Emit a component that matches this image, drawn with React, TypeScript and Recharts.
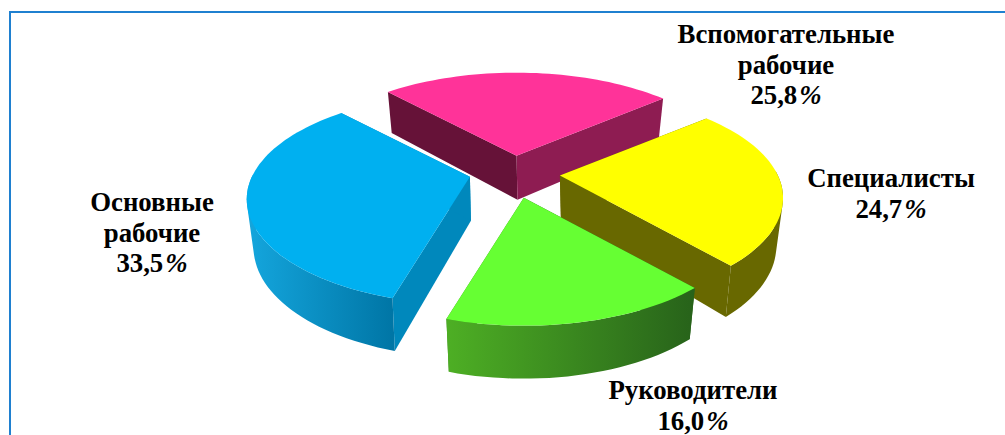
import { Pie, PieChart } from "recharts";

const categories = ["Вспомогательные рабочие", "Специалисты", "Руководители", "Основные рабочие"];
const shares = [25.8, 24.7, 16.0, 33.5];

const topColors = ["#FF3399", "#FFFF00", "#66FF33", "#00B0F0"];
const startWallColors = ["#8E1C52", "#686800", "#3A8A1C", "#0088BC"];
const endWallColors = ["#661238", "#686800", "#27621A", "#0088BC"];
const rimStops = [
  ["#8E1C52", "#8E1C52"],
  ["#686800", "#686800"],
  ["#4DAE24", "#27621A"],
  ["#14A5DC", "#0076A6"],
];
const labelAnchors = [
  { x: 786, y: 43 },
  { x: 891, y: 187 },
  { x: 693, y: 399 },
  { x: 152, y: 211 },
];
// small per slice corrections of the exploded apex, in pixels
const apexNudge = [
  { x: 1, y: 0 },
  { x: 2, y: -1 },
  { x: 0, y: 0 },
  { x: 1, y: -3 },
];

type Pt = { x: number; y: number };

const TILT = 0.462;
const PERSPECTIVE = 0.213;
const EXPLODE = [0.2, 0.206, 0.22, 0.206];
const DEPTH = 44;
const RIM_RANGE: Record<number, number[]> = { 2: [450, 695], 3: [250, 392] };

const rows = categories.map((name, i) => ({ name, value: shares[i] }));

// pie plane -> screen, u to the right, v towards the viewer
const project = (u: number, v: number, r: number) => {
  const w = 1 / (1 - PERSPECTIVE * v);
  return { x: u * r * w, y: v * r * TILT * w };
};

const planePoint = (angle: number, radius: number) => {
  const rad = (angle * Math.PI) / 180;
  return { u: radius * Math.cos(rad), v: -radius * Math.sin(rad) };
};

const toPath = (pts: Pt[]) =>
  pts.map((p, i) => `${i ? "L" : "M"}${p.x.toFixed(1)},${p.y.toFixed(1)}`).join(" ") + " Z";

// same winding for every quad, so the rim fills as one shape with no seams
const orient = (pts: Pt[]) => {
  const area = pts.reduce((sum, p, i) => {
    const n = pts[(i + 1) % pts.length];
    return sum + p.x * n.y - n.x * p.y;
  }, 0);
  return area < 0 ? [...pts].reverse() : pts;
};

const Slice3D = (props: any) => {
  const { cx, cy, outerRadius, startAngle, endAngle, index } = props;
  const mid = planePoint((startAngle + endAngle) / 2, EXPLODE[index]);
  const off = project(mid.u, mid.v, outerRadius);
  const apex = { x: cx + off.x + apexNudge[index].x, y: cy + off.y + apexNudge[index].y };

  const steps = Math.max(8, Math.ceil(Math.abs(startAngle - endAngle) / 2));
  const top: Pt[] = [];
  const bottom: Pt[] = [];
  const facing: boolean[] = [];
  for (let s = 0; s <= steps; s++) {
    const a = startAngle + ((endAngle - startAngle) * s) / steps;
    const p = planePoint(a, 1);
    const q = project(p.u, p.v, outerRadius);
    top.push({ x: apex.x + q.x, y: apex.y + q.y });
    bottom.push({ x: apex.x + q.x * 0.97, y: apex.y + q.y + 46 + 7 * p.v });
    facing.push(p.v > -0.05);
  }
  const apexLow = { x: apex.x + 1, y: apex.y + DEPTH };
  const range = RIM_RANGE[index] ?? [0, 1005];
  const gradId = `rim-${index}`;
  const rim = top
    .slice(1)
    .map((t, i) =>
      facing[i] && facing[i + 1] ? toPath(orient([top[i], t, bottom[i + 1], bottom[i]])) : ""
    )
    .join(" ");

  return (
    <g>
      <defs>
        <linearGradient id={gradId} gradientUnits="userSpaceOnUse" x1={range[0]} x2={range[1]} y1={0} y2={0}>
          <stop offset="0%" stopColor={rimStops[index][0]} />
          <stop offset="100%" stopColor={rimStops[index][1]} />
        </linearGradient>
      </defs>
      <path d={toPath([apex, top[0], bottom[0], apexLow])} fill={endWallColors[index]} />
      <path d={toPath([apex, top[steps], bottom[steps], apexLow])} fill={startWallColors[index]} />
      {rim.trim() ? <path d={rim} fill={`url(#${gradId})`} /> : null}
      <path d={toPath([apex, ...top])} fill={topColors[index]} />
    </g>
  );
};

const renderLabel = ({ index, name, value }: any) => {
  const anchor = labelAnchors[index];
  const lines = name.split(" ");
  const pct = value.toFixed(1).replace(".", ",");
  return (
    <text
      key={name}
      x={anchor.x}
      y={anchor.y}
      textAnchor="middle"
      fontFamily="'Liberation Serif', serif"
      fontWeight="bold"
      fontSize={26.8}
      fill="#000"
    >
      {lines.map((line: string, i: number) => (
        <tspan key={line} x={anchor.x} dy={i ? 30.5 : 0}>
          {line}
        </tspan>
      ))}
      <tspan x={anchor.x} dy={30.5}>
        {pct}
        <tspan fontStyle="italic" dx={2}>
          %
        </tspan>
      </tspan>
    </text>
  );
};

export default function App() {
  return (
    <div style={{ position: "absolute", left: 0, top: 0, width: 1005, height: 435, overflow: "hidden", background: "#fff" }}>
      <div
        style={{
          position: "absolute",
          left: 9,
          top: 11,
          width: 1100,
          height: 600,
          border: "2px solid #1F80D0",
        }}
      />
      <div style={{ position: "absolute", left: 0, top: 0 }}>
        <PieChart width={1005} height={435} margin={{ top: 0, right: 0, bottom: 0, left: 0 }}>
          <Pie
            data={rows}
            dataKey="value"
            nameKey="name"
            cx={513}
            cy={175}
            innerRadius={0}
            outerRadius={218}
            startAngle={133}
            endAngle={-227}
            stroke="none"
            shape={Slice3D}
            label={renderLabel}
            labelLine={false}
            isAnimationActive={false}
          />
        </PieChart>
      </div>
    </div>
  );
}
